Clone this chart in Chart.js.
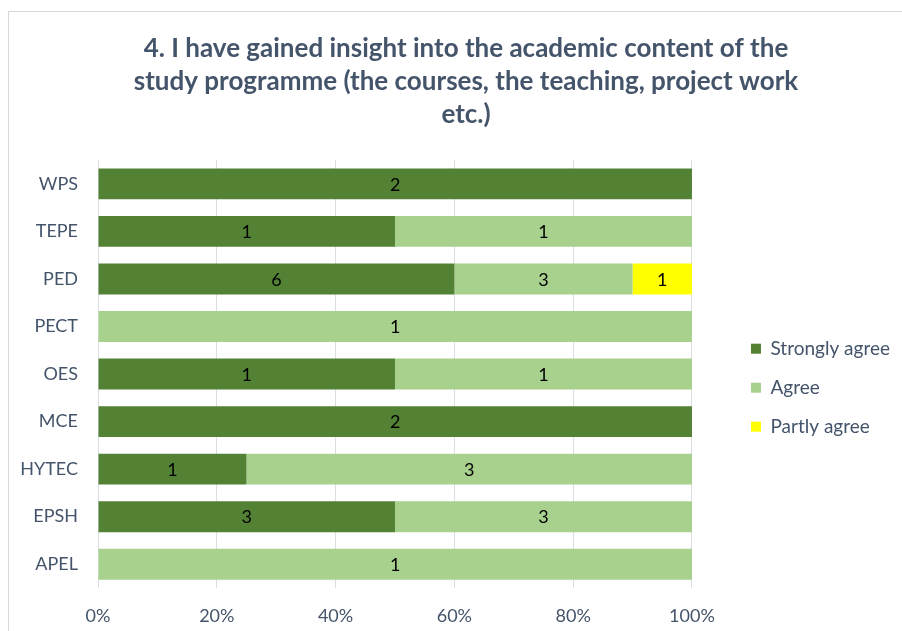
<!DOCTYPE html>
<html lang="en">
<head>
    <meta charset="UTF-8">
    <title>Academic content</title>
    <script src="https://cdn.jsdelivr.net/npm/chart.js@4/dist/chart.umd.min.js"></script>
    <style>
        body { margin: 0; background: #fff; overflow: hidden; }
        #wrap { position: relative; width: 902px; height: 631px; }
        #frame { position: absolute; left: 8px; top: 11px; width: 1000px; height: 1000px; border: 1px solid #D9D9D9; }
        #chart { position: absolute; left: 0; top: 0; }
    </style>
</head>
<body>
<div id="wrap">
    <div id="frame"></div>
    <canvas id="chart" width="902" height="631"></canvas>
</div>

<script>
    const programmes = ['WPS', 'TEPE', 'PED', 'PECT', 'OES', 'MCE', 'HYTEC', 'EPSH', 'APEL'];
    const stronglyAgree = [2, 1, 6, 0, 1, 2, 1, 3, 0];
    const agree = [0, 1, 3, 1, 1, 0, 3, 3, 1];
    const partlyAgree = [0, 0, 1, 0, 0, 0, 0, 0, 0];
    const xTicks = [0, 20, 40, 60, 80, 100];

    const titleLines = [
        '4. I have gained insight into the academic content of the',
        'study programme (the courses, the teaching, project work',
        'etc.)'
    ];
    const textColor = '#44546A';
    const font = 'Lato';

    const totals = programmes.map((_, i) => stronglyAgree[i] + agree[i] + partlyAgree[i]);
    const pct = arr => arr.map((v, i) => v / totals[i] * 100);

    const series = [
        {label: 'Strongly agree', counts: stronglyAgree, color: '#548235'},
        {label: 'Agree', counts: agree, color: '#A9D18E'},
        {label: 'Partly agree', counts: partlyAgree, color: '#FFFF00'}
    ];

    // count labels in the middle of each segment
    const countLabels = {
        id: 'countLabels',
        afterDatasetsDraw(chart) {
            const {ctx} = chart;
            ctx.save();
            ctx.font = `18px ${font}`;
            ctx.fillStyle = '#000';
            ctx.textAlign = 'center';
            ctx.textBaseline = 'middle';
            series.forEach((s, i) => {
                chart.getDatasetMeta(i).data.forEach((bar, j) => {
                    const n = s.counts[j];
                    if (!n) return;
                    const {x, y, base} = bar.getProps(['x', 'y', 'base'], true);
                    ctx.fillText(n, (x + base) / 2, y + 1);
                });
            });
            ctx.restore();
        }
    };

    // the title is centred a little right of the canvas middle
    const shiftTitle = {
        id: 'shiftTitle',
        afterLayout(chart) {
            chart.titleBlock.left += 22;
        }
    };

    new Chart(document.getElementById('chart'), {
        type: 'bar',
        data: {
            labels: programmes,
            datasets: series.map(s => ({
                label: s.label,
                data: pct(s.counts),
                backgroundColor: s.color,
                borderWidth: 0,
                barPercentage: 0.65,
                categoryPercentage: 1
            }))
        },
        options: {
            indexAxis: 'y',
            responsive: false,
            animation: false,
            layout: {padding: {left: 10, right: 2, top: 0, bottom: 7}},
            plugins: {
                title: {
                    display: true,
                    text: titleLines,
                    color: textColor,
                    font: {family: font, size: 26, weight: 'bold', lineHeight: 1.27},
                    padding: {top: 32, bottom: 29}
                },
                legend: {
                    position: 'right',
                    align: 'start',
                    maxWidth: 220,
                    title: {display: true, text: '', padding: {top: 318, bottom: 0}, font: {size: 1}},
                    labels: {
                        boxWidth: 10,
                        boxHeight: 10,
                        padding: 20,
                        color: textColor,
                        font: {family: font, size: 19}
                    }
                },
                tooltip: {enabled: false}
            },
            scales: {
                x: {
                    stacked: true,
                    min: 0,
                    max: 100,
                    afterBuildTicks: scale => { scale.ticks = xTicks.map(v => ({value: v})); },
                    afterFit: s => { s.height = 36; },
                    ticks: {
                        callback: v => v + '%',
                        color: textColor,
                        padding: 17,
                        font: {family: font, size: 18}
                    },
                    grid: {color: '#D9DDE4', drawTicks: false},
                    border: {display: false}
                },
                y: {
                    stacked: true,
                    afterFit: s => { s.width = 88; },
                    ticks: {
                        color: textColor,
                        padding: 20,
                        font: {family: font, size: 18}
                    },
                    grid: {display: false, drawTicks: false},
                    border: {display: false}
                },
                gap: {
                    axis: 'y',
                    type: 'category',
                    position: 'right',
                    labels: programmes,
                    afterFit: s => { s.width = 39; },
                    ticks: {display: false},
                    grid: {display: false},
                    border: {display: false}
                }
            }
        },
        plugins: [countLabels, shiftTitle]
    });
</script>
</body>
</html>
